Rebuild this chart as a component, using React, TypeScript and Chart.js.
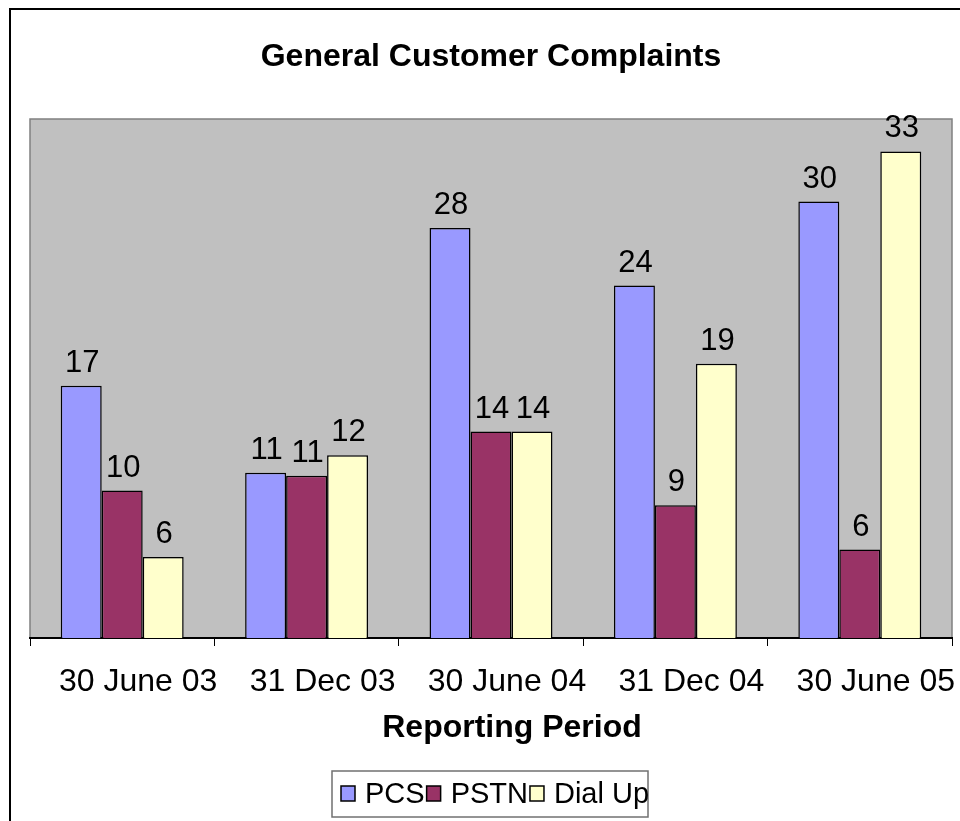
import React, { useEffect, useRef } from "react";
import { Chart, registerables } from "chart.js";

Chart.register(...registerables);

const categories = ["30 June 03", "31 Dec 03", "30 June 04", "31 Dec 04", "30 June 05"];
const pcsValues = [17.1, 11.2, 27.8, 23.9, 29.6];
const pstnValues = [10, 11, 14, 9, 6];
const dialUpValues = [5.5, 12.4, 14, 18.6, 33];
const seriesNames = ["PCS", "PSTN", "Dial Up"];
const seriesColors = ["#9999FF", "#993366", "#FFFFCC"];
const chartTitle = "General Customer Complaints";
const xAxisTitle = "Reporting Period";

const FONT = '"Liberation Sans", Arial, Helvetica, sans-serif';

const framePlugin = {
  id: "framePlugin",
  beforeDraw(chart: any) {
    const { ctx, chartArea, width, height } = chart;
    ctx.save();
    ctx.fillStyle = "#ffffff";
    ctx.fillRect(0, 0, width, height);
    // outer frame
    ctx.strokeStyle = "#000000";
    ctx.lineWidth = 2;
    ctx.strokeRect(10, 9, width + 20, height + 20);
    // plot area
    ctx.fillStyle = "#C0C0C0";
    ctx.fillRect(chartArea.left, chartArea.top, chartArea.right - chartArea.left, chartArea.bottom - chartArea.top);
    ctx.strokeStyle = "#808080";
    ctx.lineWidth = 1.5;
    ctx.strokeRect(chartArea.left, chartArea.top, chartArea.right - chartArea.left, chartArea.bottom - chartArea.top);
    ctx.restore();
  },
};

const valueLabelPlugin = {
  id: "valueLabelPlugin",
  afterDatasetsDraw(chart: any) {
    const { ctx } = chart;
    ctx.save();
    ctx.font = `31px ${FONT}`;
    ctx.fillStyle = "#000000";
    ctx.textAlign = "center";
    ctx.textBaseline = "alphabetic";
    chart.data.datasets.forEach((ds: any, i: number) => {
      const meta = chart.getDatasetMeta(i);
      meta.data.forEach((el: any, j: number) => {
        const v = ds.data[j];
        ctx.fillText(String(Math.round(v)), el.x + 1, el.y - 14);
      });
    });
    ctx.restore();
  },
};

const titleAndLegendPlugin = {
  id: "titleAndLegendPlugin",
  afterDraw(chart: any) {
    const { ctx, chartArea } = chart;
    ctx.save();
    // axis title
    ctx.font = `bold 32px ${FONT}`;
    ctx.fillStyle = "#000000";
    ctx.textAlign = "center";
    ctx.textBaseline = "alphabetic";
    const cx = (chartArea.left + chartArea.right) / 2 + 21;
    ctx.fillText(xAxisTitle, cx, 737);

    // legend
    const boxL = 332;
    const boxT = 771;
    const boxW = 316;
    const boxH = 46;
    ctx.strokeStyle = "#707070";
    ctx.lineWidth = 1.5;
    ctx.strokeRect(boxL, boxT, boxW, boxH);
    ctx.font = `29px ${FONT}`;
    ctx.textAlign = "left";
    let x = 341;
    chart.data.datasets.forEach((ds: any) => {
      ctx.fillStyle = ds.backgroundColor;
      ctx.fillRect(x, 786, 14, 15);
      ctx.strokeStyle = "#000000";
      ctx.lineWidth = 1.5;
      ctx.strokeRect(x, 786, 14, 15);
      ctx.fillStyle = "#000000";
      const tx = x + 24;
      ctx.fillText(ds.label, tx, 803);
      x = tx + ctx.measureText(ds.label).width + 2;
    });
    ctx.restore();
  },
};

export default function App() {
  const canvasRef = useRef<HTMLCanvasElement | null>(null);

  useEffect(() => {
    const canvas = canvasRef.current;
    if (!canvas) return;
    const seriesValues = [pcsValues, pstnValues, dialUpValues];
    const chart = new Chart(canvas, {
      type: "bar",
      data: {
        labels: categories,
        datasets: seriesNames.map((name, i) => ({
          label: name,
          data: seriesValues[i],
          backgroundColor: seriesColors[i],
          borderColor: "#000000",
          borderWidth: 1.5,
          categoryPercentage: 3 / 4.5,
          barPercentage: 1,
        })),
      },
      options: {
        responsive: false,
        animation: false,
        devicePixelRatio: 1,
        layout: { padding: { left: 30, right: 8, top: 0, bottom: 0 } },
        plugins: {
          legend: { display: false },
          tooltip: { enabled: false },
          title: {
            display: true,
            text: chartTitle,
            color: "#000000",
            font: { family: FONT, size: 32, weight: "bold" },
            padding: { top: 38, bottom: 42.6 },
          },
        },
        scales: {
          x: {
            offset: true,
            afterFit(scale: any) {
              scale.height = 183;
            },
            grid: {
              offset: true,
              drawOnChartArea: false,
              drawTicks: true,
              tickLength: 8,
              color: "#000000",
              lineWidth: 1,
            },
            border: { display: true, color: "#000000", width: 2 },
            ticks: {
              color: "#000000",
              font: { family: FONT, size: 32 },
              padding: 17,
              labelOffset: 16,
              maxRotation: 0,
              autoSkip: false,
            },
          },
          y: {
            display: false,
            min: 0,
            max: 35.2,
          },
        },
      },
      plugins: [framePlugin, valueLabelPlugin, titleAndLegendPlugin],
    });
    return () => chart.destroy();
  }, []);

  return (
    <div style={{ position: "absolute", left: 0, top: 0, width: 960, height: 821 }}>
      <canvas ref={canvasRef} width={960} height={821} style={{ width: 960, height: 821, display: "block" }} />
    </div>
  );
}
